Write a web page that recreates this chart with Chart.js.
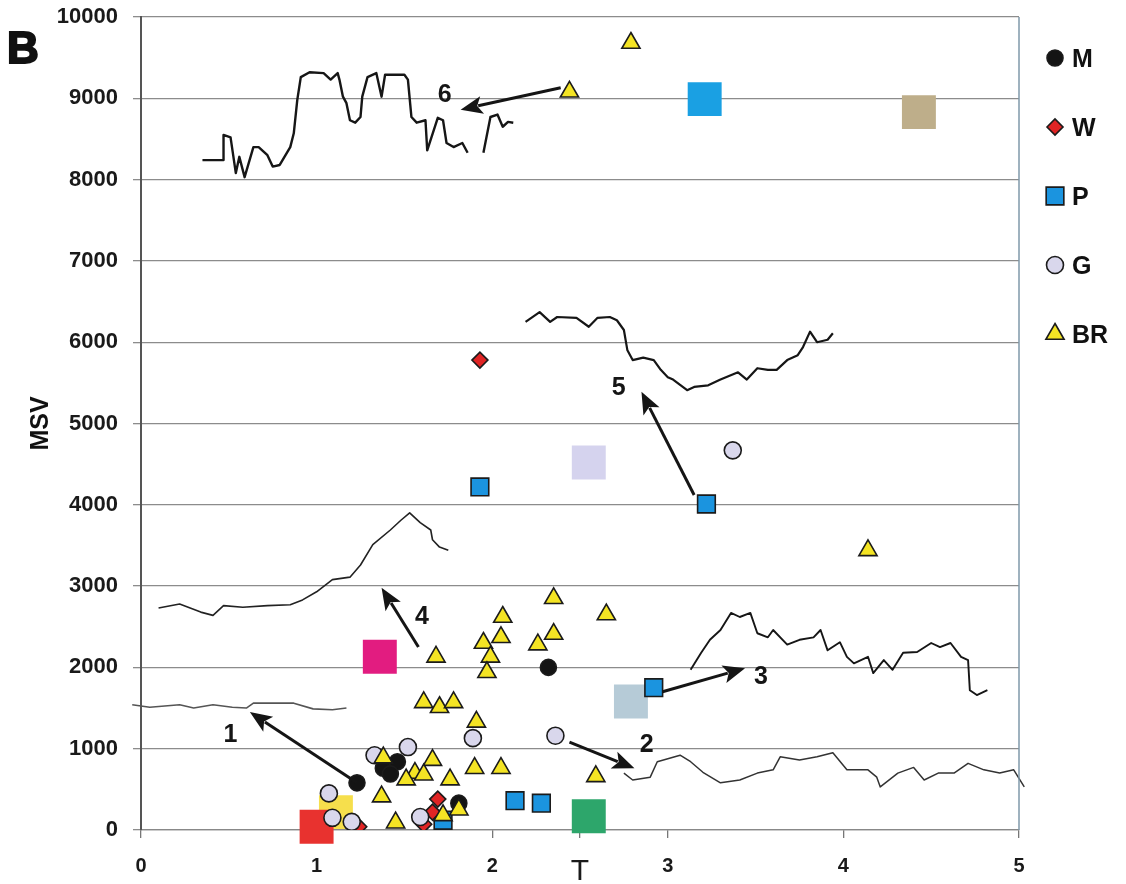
<!DOCTYPE html>
<html>
<head>
<meta charset="utf-8">
<script src="https://cdn.jsdelivr.net/npm/chart.js@4.4.0/dist/chart.umd.min.js"></script>
<style>
  html, body { margin: 0; background: #fff; }
</style>
</head>
<body>
<canvas id="c" width="1126" height="884"></canvas>
<script>
// axis ticks
const xTickValues = [0, 1, 2, 2.5, 3, 4, 5];
const xTickLabels = ["0", "1", "2", "T", "3", "4", "5"];

// point groups (x, MSV)
const mX = [1.23, 1.38, 1.46, 1.42, 1.81, 2.32];
const mY = [580, 760, 840, 690, 330, 2000];
const wX = [1.93, 1.69, 1.66, 1.61, 1.24];
const wY = [5780, 380, 220, 70, 40];
const pX = [1.93, 3.22, 2.92, 2.13, 2.28, 1.72];
const pY = [4220, 4010, 1750, 360, 330, 120];
const gX = [3.37, 2.36, 1.89, 1.33, 1.52, 1.07, 1.09, 1.20, 1.59];
const gY = [4670, 1160, 1130, 920, 1020, 450, 150, 100, 160];
const brX = [2.44, 2.79, 4.14, 2.35, 2.65, 2.06, 2.05, 1.95, 2.35, 2.26, 1.99, 1.97, 1.68, 1.61, 1.70,
             1.78, 1.91, 1.38, 1.66, 1.56, 1.61, 1.51, 1.76, 1.90, 2.05, 1.37, 1.45, 1.72, 1.81, 2.59];
const brY = [9080, 9680, 3440, 2850, 2650, 2620, 2370, 2300, 2410, 2280, 2130, 1940, 2130, 1570, 1510,
             1570, 1330, 890, 860, 700, 680, 620, 620, 760, 760, 410, 90, 180, 250, 660];

// large pale squares
const bigX = [1.11, 1.00, 1.36, 2.55, 2.79, 2.55, 3.21, 4.43];
const bigY = [220, 40, 2130, 4520, 1580, 170, 8990, 8830];
const bigColors = ["#f6df4c", "#e8322f", "#e21c80", "#d5d3ee", "#b6cbd7", "#2da66b", "#1aa0e3", "#beae8a"];

// traces 1..6
const t1X = [-0.21, -0.05, 0.05, 0.22, 0.30, 0.41, 0.52, 0.60, 0.64, 0.75, 0.87, 0.98, 1.09, 1.17];
const t1Y = [1510, 1540, 1510, 1540, 1500, 1540, 1510, 1500, 1560, 1560, 1560, 1490, 1480, 1500];
const t2X = [2.75, 2.80, 2.90, 2.94, 3.07, 3.13, 3.20, 3.30, 3.41, 3.51, 3.60, 3.64, 3.75, 3.85, 3.94,
             4.02, 4.14, 4.19, 4.21, 4.31, 4.40, 4.46, 4.54, 4.63, 4.71, 4.80, 4.89, 4.97, 5.03, 5.07];
const t2Y = [700, 615, 650, 840, 920, 840, 710, 580, 615, 700, 740, 900, 860, 900, 950,
             740, 740, 650, 530, 700, 770, 615, 700, 700, 820, 740, 700, 740, 530, 740];
const t3X = [3.13, 3.19, 3.24, 3.30, 3.36, 3.41, 3.47, 3.51, 3.57, 3.60, 3.68, 3.75, 3.83, 3.87, 3.91, 3.98,
             4.02, 4.06, 4.14, 4.17, 4.23, 4.28, 4.34, 4.42, 4.50, 4.55, 4.61, 4.67, 4.71, 4.72, 4.76, 4.82];
const t3Y = [1970, 2180, 2340, 2460, 2670, 2620, 2670, 2420, 2370, 2460, 2280, 2340, 2370, 2460, 2210, 2310,
             2130, 2050, 2130, 1930, 2090, 1970, 2180, 2190, 2300, 2250, 2300, 2130, 2090, 1720, 1660, 1720];
const t4X = [0.10, 0.22, 0.34, 0.41, 0.47, 0.58, 0.72, 0.85, 0.92, 1.00, 1.09, 1.19, 1.25, 1.32, 1.42,
             1.48, 1.53, 1.59, 1.65, 1.66, 1.70, 1.75];
const t4Y = [2730, 2780, 2680, 2640, 2760, 2740, 2760, 2770, 2830, 2930, 3080, 3110, 3260, 3510, 3690,
             3810, 3900, 3780, 3690, 3570, 3480, 3440];
const t5X = [2.19, 2.27, 2.33, 2.37, 2.48, 2.55, 2.60, 2.67, 2.71, 2.75, 2.77, 2.80, 2.86, 2.92, 2.96, 3.00,
             3.03, 3.11, 3.15, 3.23, 3.30, 3.40, 3.45, 3.51, 3.57, 3.62, 3.68, 3.74, 3.77, 3.81, 3.85, 3.91, 3.94];
const t5Y = [6250, 6370, 6250, 6310, 6300, 6190, 6300, 6310, 6270, 6150, 5900, 5780, 5810, 5780, 5660, 5570,
             5540, 5410, 5450, 5470, 5540, 5630, 5540, 5680, 5660, 5660, 5780, 5840, 5940, 6130, 6000, 6030, 6110];
const t6X = [0.35, 0.47, 0.47, 0.51, 0.54, 0.56, 0.59, 0.64, 0.67, 0.72, 0.75, 0.79, 0.85, 0.87, 0.89, 0.91,
             0.96, 1.04, 1.08, 1.12, 1.13, 1.15, 1.17, 1.19, 1.22, 1.25, 1.26, 1.29, 1.34, 1.37, 1.39, 1.46,
             1.50, 1.52, 1.54, 1.57, 1.62, 1.63, 1.69, 1.72, 1.74, 1.78, 1.83, 1.86, 1.90, 1.95, 1.99, 2.03,
             2.06, 2.09, 2.12];
const t6Y = [8240, 8240, 8550, 8520, 8080, 8280, 8030, 8400, 8400, 8300, 8160, 8180, 8400, 8570, 8980, 9260,
             9320, 9310, 9230, 9310, 9230, 9020, 8940, 8730, 8700, 8770, 9020, 9260, 9310, 9020, 9290, 9290,
             9290, 9230, 8770, 8700, 8730, 8360, 8760, 8730, 8450, 8400, 8450, 8330, null, 8330, 8770, 8800,
             8650, 8710, 8700];

// numbered arrows: tail -> head, with label position
const arrowNames = ["1", "2", "3", "4", "5", "6"];
const arrowFromX = [1.23, 2.44, 2.97, 1.58, 3.15, 2.39];
const arrowFromY = [580, 1080, 1700, 2250, 4120, 9130];
const arrowToX = [0.62, 2.81, 3.44, 1.37, 2.85, 1.82];
const arrowToY = [1450, 760, 1990, 2980, 5390, 8860];
const arrowLabelX = [0.51, 2.88, 3.53, 1.60, 2.72, 1.73];
const arrowLabelY = [1170, 1045, 1880, 2620, 5440, 9040];

const FONT = '"Liberation Sans", Arial, sans-serif';
const pts = (xs, ys) => xs.map((x, i) => ({ x: x, y: ys[i] }));

function trace(xs, ys, color, width) {
  return {
    data: pts(xs, ys), showLine: true, pointRadius: 0, borderColor: color, borderWidth: width,
    borderJoinStyle: "round", spanGaps: false, clip: false, order: 8
  };
}

const groupStyle = (label, xs, ys, style, fill, radius, ord) => ({
  label: label, data: pts(xs, ys), legend: true, pointStyle: style,
  backgroundColor: fill, borderColor: "#1b1b1b", borderWidth: 1.6,
  pointRadius: radius, legendRadius: radius, order: ord
});

const sideLegend = {
  id: "sideLegend",
  afterDraw(chart) {
    const { ctx, chartArea } = chart;
    chart.data.datasets.filter(d => d.legend).forEach((d, i) => {
      const y = chartArea.top + 41 + i * 69;
      ctx.save();
      ctx.fillStyle = d.backgroundColor;
      ctx.strokeStyle = d.borderColor;
      ctx.lineWidth = d.borderWidth;
      Chart.helpers.drawPoint(ctx, { pointStyle: d.pointStyle, radius: d.legendRadius, rotation: 0, borderWidth: d.borderWidth },
        chartArea.right + 36, y);
      ctx.fillStyle = "#111";
      ctx.font = "bold 25px " + FONT;
      ctx.textBaseline = "middle";
      ctx.fillText(d.label, chartArea.right + 53, y + 2);
      ctx.restore();
    });
  }
};

const extras = {
  id: "extras",
  afterDatasetsDraw(chart) {
    const { ctx, chartArea, scales } = chart;
    const xs = scales.x, ys = scales.y;
    ctx.save();
    // right frame line
    ctx.strokeStyle = "#7f98aa";
    ctx.lineWidth = 1.5;
    ctx.beginPath();
    ctx.moveTo(chartArea.right, chartArea.top);
    ctx.lineTo(chartArea.right, chartArea.bottom);
    ctx.stroke();
    // arrows
    arrowNames.forEach((name, i) => {
      const x0 = xs.getPixelForValue(arrowFromX[i]), y0 = ys.getPixelForValue(arrowFromY[i]);
      const x1 = xs.getPixelForValue(arrowToX[i]), y1 = ys.getPixelForValue(arrowToY[i]);
      const a = Math.atan2(y1 - y0, x1 - x0);
      const hl = 22, hw = 9;
      const bx = x1 - Math.cos(a) * hl, by = y1 - Math.sin(a) * hl;
      ctx.strokeStyle = "#151515";
      ctx.fillStyle = "#151515";
      ctx.lineWidth = 3;
      ctx.beginPath();
      ctx.moveTo(x0, y0);
      ctx.lineTo(bx + Math.cos(a) * 4, by + Math.sin(a) * 4);
      ctx.stroke();
      ctx.beginPath();
      ctx.moveTo(x1, y1);
      ctx.lineTo(bx - Math.sin(a) * hw, by + Math.cos(a) * hw);
      ctx.lineTo(bx + Math.cos(a) * 5, by + Math.sin(a) * 5);
      ctx.lineTo(bx + Math.sin(a) * hw, by - Math.cos(a) * hw);
      ctx.closePath();
      ctx.fill();
      ctx.font = "bold 25px " + FONT;
      ctx.textAlign = "center";
      ctx.textBaseline = "middle";
      ctx.fillText(name, xs.getPixelForValue(arrowLabelX[i]), ys.getPixelForValue(arrowLabelY[i]));
    });
    // panel letter
    ctx.font = "bold 44px " + FONT;
    ctx.textAlign = "left";
    ctx.textBaseline = "alphabetic";
    ctx.lineWidth = 2;
    ctx.strokeStyle = "#111";
    ctx.fillStyle = "#111";
    ctx.fillText("B", 7, 63);
    ctx.strokeText("B", 7, 63);
    ctx.restore();
  }
};

new Chart(document.getElementById("c"), {
  type: "scatter",
  data: {
    datasets: [
      groupStyle("M", mX, mY, "circle", "#141414", 8, 2),
      groupStyle("W", wX, wY, "rectRot", "#e02424", 8, 4),
      groupStyle("P", pX, pY, "rect", "#1b94df", 12.5, 5),
      groupStyle("G", gX, gY, "circle", "#d9d7ec", 8.5, 3),
      groupStyle("BR", brX, brY, "triangle", "#f4e424", 10.5, 1),
      {
        label: "big", data: pts(bigX, bigY), pointStyle: "rect", pointRadius: 24,
        backgroundColor: bigColors, borderWidth: 0, clip: false, order: 9
      },
      trace(t1X, t1Y, "#555", 1.6),
      trace(t2X, t2Y, "#333", 1.5),
      trace(t3X, t3Y, "#161616", 1.9),
      trace(t4X, t4Y, "#222", 1.6),
      trace(t5X, t5Y, "#161616", 2.2),
      trace(t6X, t6Y, "#161616", 2.4)
    ]
  },
  options: {
    responsive: false,
    animation: false,
    layout: { autoPadding: false, padding: { top: 17, right: 107, left: 0, bottom: 0 } },
    plugins: { legend: { display: false }, tooltip: { enabled: false } },
    elements: { line: { tension: 0 } },
    scales: {
      x: {
        type: "linear", min: 0, max: 5,
        afterFit: s => { s.height = 54; s.paddingLeft = 0; s.paddingRight = 0; },
        afterBuildTicks: s => { s.ticks = xTickValues.map(v => ({ value: v })); },
        grid: { drawOnChartArea: false, drawTicks: true, tickLength: 8, color: "#777", lineWidth: 1.3 },
        border: { color: "#888", width: 1.3 },
        ticks: {
          padding: 16, color: "#1a1a1a", maxRotation: 0,
          callback: v => xTickLabels[xTickValues.indexOf(v)],
          font: c => (c.tick && c.tick.value === 2.5)
            ? { family: FONT, size: 30, weight: "normal" }
            : { family: FONT, size: 20, weight: "bold" }
        }
      },
      y: {
        min: 0, max: 10000,
        afterFit: s => { s.width = 141; s.paddingTop = 0; s.paddingBottom = 0; },
        grid: { color: "#8c8c8c", lineWidth: 1.3, tickLength: 8 },
        border: { color: "#555", width: 2 },
        ticks: {
          stepSize: 1000, padding: 15, color: "#1a1a1a",
          callback: v => String(v),
          font: { family: FONT, size: 22, weight: "bold" }
        },
        title: { display: true, text: "MSV", color: "#111", padding: { top: 26, bottom: 0 },
                 font: { family: FONT, size: 25, weight: "bold" } }
      }
    }
  },
  plugins: [extras, sideLegend]
});
</script>
</body>
</html>
